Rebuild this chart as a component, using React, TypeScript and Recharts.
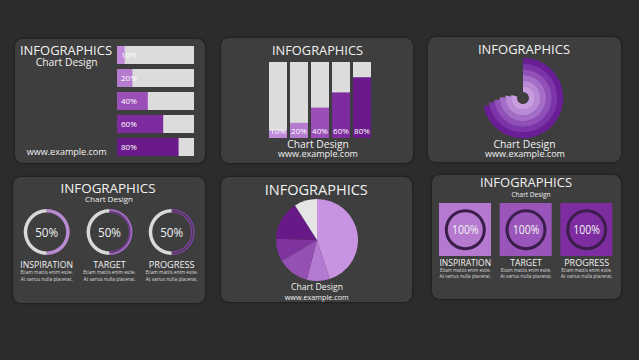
import React from 'react';
import { BarChart, Bar, XAxis, YAxis, Cell, LabelList, PieChart, Pie, RadialBarChart, RadialBar, PolarAngleAxis } from 'recharts';

// ---------- data ----------
const hCategories = ['A', 'B', 'C', 'D', 'E'];
const hValues = [10, 20, 40, 60, 80];
const vCategories = ['A', 'B', 'C', 'D', 'E'];
const vValues = [10, 20, 40, 60, 80];
const radialValues = [285, 278, 272, 266, 262, 258]; // degrees, inner -> outer
const pieValues = [45, 9, 12.5, 9, 15.5, 9];
const ringValues = [50, 50, 50];
const ringLabels = ['INSPIRATION', 'TARGET', 'PROGRESS'];
const tileValues = [100, 100, 100];
const tileLabels = ['INSPIRATION', 'TARGET', 'PROGRESS'];
const bodyLine1 = 'Etiam mattis enim estie.';
const bodyLine2 = 'At varius nulla placerat.';

// ---------- styles ----------
const barColors = ['#c08ad8', '#b47bcf', '#9a4eb8', '#7e2b9f', '#6a1a8a'];
const radialColors = ['#c99ee0', '#b98ad6', '#a46dc8', '#9050b8', '#7c35a8', '#6a1e96'];
const pieColors = ['#c893e0', '#b47ad2', '#9550b3', '#7f339f', '#671a87', '#e5e5e5'];
const tileColors = ['#b579d0', '#9a55ba', '#7e2da0'];
const GRAY = '#dcdcdc';
const FONT = '"Open Sans", "DejaVu Sans", sans-serif';
const TEXT = '#f2f2f2';

const hData = hCategories.map((c, i) => ({ name: c, value: hValues[i], label: `${hValues[i]}%` }));
const vData = vCategories.map((c, i) => ({ name: c, value: vValues[i], label: `${vValues[i]}%` }));
const radialData = radialValues.map((v, i) => ({ name: `r${i}`, value: v }));
const pieData = pieValues.map((v, i) => ({ name: `s${i}`, value: v }));
const tileData = tileValues.map((v, i) => ({ name: tileLabels[i], value: v }));

const panels = [
  { x: 15, y: 39, w: 190, h: 124 },
  { x: 221, y: 38, w: 192, h: 125 },
  { x: 428, y: 37, w: 193, h: 125 },
  { x: 13, y: 177, w: 192, h: 126 },
  { x: 221, y: 177, w: 191, h: 125 },
  { x: 432, y: 175, w: 189, h: 124 },
];

const ringXs = [46.7, 109.5, 171.7];
const ringY = 232;
// bands per ring for the filled part: [inner, outer, color]
const ringBands: [number, number, string][][] = [
  [[19.5, 23, '#b98ad2']],
  [[21, 23, '#a468c8'], [19.3, 20.4, '#7d3a9f']],
  [[21.8, 23, '#8a3fb0'], [19.5, 20.6, '#8a3fb0']],
];
const tileXs = [465.3, 526, 586.7];
const tileCircleY = 229.7;

type TT = { t: string; x: number; y: number; w: number; s: number; c?: string };
const texts: TT[] = [
  { t: 'INFOGRAPHICS', x: 66, y: 54.5, w: 92, s: 12 },
  { t: 'Chart Design', x: 66.7, y: 65.5, w: 62, s: 10 },
  { t: 'www.example.com', x: 66.7, y: 154.5, w: 80, s: 8.5 },
  { t: 'INFOGRAPHICS', x: 317.5, y: 54.5, w: 91, s: 12 },
  { t: 'Chart Design', x: 318, y: 148, w: 61.5, s: 10 },
  { t: 'www.example.com', x: 318, y: 156.5, w: 80, s: 8.5 },
  { t: 'INFOGRAPHICS', x: 524, y: 53.5, w: 92, s: 12 },
  { t: 'Chart Design', x: 524.5, y: 148, w: 62, s: 10 },
  { t: 'www.example.com', x: 525, y: 156.5, w: 80, s: 8.5 },
  { t: 'INFOGRAPHICS', x: 108, y: 193, w: 95, s: 13 },
  { t: 'Chart Design', x: 109, y: 202, w: 48, s: 8 },
  { t: 'INFOGRAPHICS', x: 316.3, y: 194.5, w: 103, s: 14 },
  { t: 'Chart Design', x: 317, y: 289.5, w: 52, s: 8.5 },
  { t: 'www.example.com', x: 316.7, y: 300, w: 64, s: 7 },
  { t: 'INFOGRAPHICS', x: 526, y: 187, w: 92, s: 12 },
  { t: 'Chart Design', x: 531, y: 196.5, w: 39, s: 7 },
];
const ringLabelW = [52.7, 32.7, 46];
const tileLabelW = [51.6, 31.7, 45];
ringLabels.forEach((l, i) => {
  texts.push({ t: `${ringValues[i]}%`, x: ringXs[i], y: 237, w: 23, s: 13 });
  texts.push({ t: l, x: ringXs[i], y: 268, w: ringLabelW[i], s: 9 });
  texts.push({ t: bodyLine1, x: ringXs[i], y: 274.2, w: 52.5, s: 4.8, c: '#dddddd' });
  texts.push({ t: bodyLine2, x: ringXs[i], y: 281.2, w: 52, s: 4.8, c: '#dddddd' });
});
tileLabels.forEach((l, i) => {
  texts.push({ t: `${tileValues[i]}%`, x: tileXs[i], y: 234.3, w: 26.7, s: 13 });
  texts.push({ t: l, x: tileXs[i], y: 265.5, w: tileLabelW[i], s: 9 });
  texts.push({ t: bodyLine1, x: tileXs[i], y: 271.8, w: 50.7, s: 4.6, c: '#dddddd' });
  texts.push({ t: bodyLine2, x: tileXs[i], y: 278.2, w: 51.7, s: 4.6, c: '#dddddd' });
});

const abs = (x: number, y: number, w: number, h: number): React.CSSProperties => ({
  position: 'absolute', left: x, top: y, width: w, height: h,
});

export default function App() {
  return (
    <div style={{ position: 'absolute', left: 0, top: 0, width: 639, height: 360, background: '#2c2c2c', overflow: 'hidden', fontFamily: FONT }}>
      {panels.map((p, i) => (
        <div key={i} style={{ ...abs(p.x, p.y, p.w, p.h), background: '#3e3e3e', borderRadius: 8, boxShadow: '0 0 3px rgba(0,0,0,0.6)' }} />
      ))}

      {/* Panel 1: horizontal progress bars */}
      <div style={abs(117, 43, 77, 115)}>
        <BarChart width={77} height={115} data={hData} layout="vertical" margin={{ top: 0, right: 0, bottom: 0, left: 0 }} barSize={18}>
          <XAxis type="number" domain={[0, 100]} hide />
          <YAxis type="category" dataKey="name" hide />
          <Bar dataKey="value" isAnimationActive={false} background={{ fill: GRAY }}>
            {hData.map((d, i) => <Cell key={i} fill={barColors[i]} />)}
            <LabelList dataKey="label" position="insideLeft" offset={4} fill="#ffffff" fontSize={8} fontFamily={FONT} />
          </Bar>
        </BarChart>
      </div>

      {/* Panel 2: vertical progress bars */}
      <div style={abs(266.5, 62, 105, 76)}>
        <BarChart width={105} height={76} data={vData} margin={{ top: 0, right: 0, bottom: 0, left: 0 }} barSize={18}>
          <XAxis dataKey="name" hide />
          <YAxis type="number" domain={[0, 100]} hide />
          <Bar dataKey="value" isAnimationActive={false} background={{ fill: GRAY }}>
            {vData.map((d, i) => <Cell key={i} fill={barColors[i]} />)}
            <LabelList dataKey="label" position="insideBottom" offset={4} fill="#ffffff" fontSize={8} fontFamily={FONT} />
          </Bar>
        </BarChart>
      </div>

      {/* Panel 3: radial bars */}
      <div style={abs(473, 48, 100, 100)}>
        <RadialBarChart width={100} height={100} cx={50} cy={50} innerRadius={6} outerRadius={40} data={radialData}
          startAngle={90} endAngle={-270} barCategoryGap={0} margin={{ top: 0, right: 0, bottom: 0, left: 0 }}>
          <PolarAngleAxis type="number" domain={[0, 360]} tick={false} axisLine={false} />
          <RadialBar dataKey="value" isAnimationActive={false}>
            {radialData.map((d, i) => <Cell key={i} fill={radialColors[i]} />)}
          </RadialBar>
        </RadialBarChart>
      </div>

      {/* Panel 4: rings */}
      <div style={abs(13, 177, 192, 126)}>
        <PieChart width={192} height={126} margin={{ top: 0, right: 0, bottom: 0, left: 0 }}>
          {ringValues.map((v, i) => (
            <Pie key={`g${i}`} data={[{ name: 'done', value: v }, { name: 'rest', value: 100 - v }]} dataKey="value"
              cx={ringXs[i] - 13} cy={ringY - 177} innerRadius={19.5} outerRadius={23} startAngle={90} endAngle={-270}
              stroke="none" isAnimationActive={false}>
              <Cell fill="none" />
              <Cell fill="#d9d9d9" />
            </Pie>
          ))}
          {ringValues.map((v, i) => ringBands[i].map((b, j) => (
            <Pie key={`p${i}-${j}`} data={[{ name: 'done', value: v }, { name: 'rest', value: 100 - v }]} dataKey="value"
              cx={ringXs[i] - 13} cy={ringY - 177} innerRadius={b[0]} outerRadius={b[1]} startAngle={90} endAngle={-270}
              stroke="none" isAnimationActive={false}>
              <Cell fill={b[2]} />
              <Cell fill="none" />
            </Pie>
          )))}
        </PieChart>
      </div>

      {/* Panel 5: pie */}
      <div style={abs(267, 190, 100, 100)}>
        <PieChart width={100} height={100} margin={{ top: 0, right: 0, bottom: 0, left: 0 }}>
          <Pie data={pieData} dataKey="value" cx={50} cy={50} outerRadius={41} startAngle={90} endAngle={-270}
            stroke="none" isAnimationActive={false}>
            {pieData.map((d, i) => <Cell key={i} fill={pieColors[i]} />)}
          </Pie>
        </PieChart>
      </div>

      {/* Panel 6: tiles */}
      <div style={abs(435, 203, 182, 53)}>
        <BarChart width={182} height={53} data={tileData} margin={{ top: 0, right: 0, bottom: 0, left: 0 }} barSize={52}>
          <XAxis dataKey="name" hide />
          <YAxis type="number" domain={[0, 100]} hide />
          <Bar dataKey="value" isAnimationActive={false}>
            {tileData.map((d, i) => <Cell key={i} fill={tileColors[i]} />)}
          </Bar>
        </BarChart>
      </div>
      <div style={abs(432, 175, 189, 124)}>
        <PieChart width={189} height={124} margin={{ top: 0, right: 0, bottom: 0, left: 0 }}>
          {tileValues.map((v, i) => (
            <Pie key={i} data={[{ name: 'v', value: v }]} dataKey="value" cx={tileXs[i] - 432} cy={tileCircleY - 175}
              innerRadius={17.5} outerRadius={20.5} startAngle={90} endAngle={-270} stroke="none" isAnimationActive={false}>
              <Cell fill="#3a1d4a" />
            </Pie>
          ))}
        </PieChart>
      </div>

      {/* Text overlay */}
      <svg width={639} height={360} style={{ position: 'absolute', left: 0, top: 0, pointerEvents: 'none' }}>
        {texts.map((t, i) => (
          <text key={i} x={t.x} y={t.y} textAnchor="middle" fontSize={t.s} fontFamily={FONT}
            fill={t.c || TEXT} textLength={t.w} lengthAdjust="spacingAndGlyphs">{t.t}</text>
        ))}
      </svg>
    </div>
  );
}
